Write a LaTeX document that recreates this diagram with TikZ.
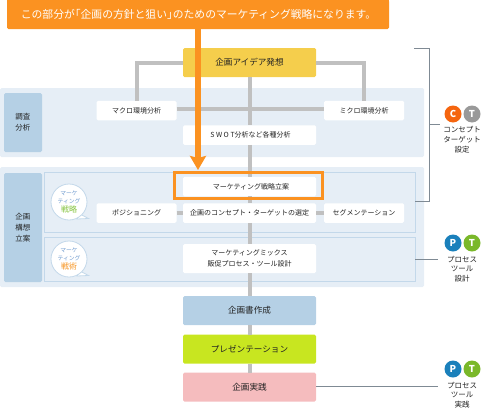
\documentclass[tikz,border=0pt]{standalone}
\usepackage{fontspec}
\setmainfont{Noto Sans CJK JP}
\usetikzlibrary{arrows.meta,calc}
\definecolor{bandc}{HTML}{E6EEF6}
\definecolor{labelc}{HTML}{B5D0E5}
\definecolor{innerc}{HTML}{C3D8EA}
\definecolor{linkc}{HTML}{C0C0C0}
\definecolor{orangec}{HTML}{FB9221}
\definecolor{leaderc}{HTML}{7F8A94}
\definecolor{txtc}{HTML}{222222}
\definecolor{bluetxt}{HTML}{6F9BCF}
\definecolor{greentxt}{HTML}{86C440}
\definecolor{orangetxt}{HTML}{F7931E}
\tikzset{
  x=1pt,y=-1pt,
  base/.style={inner sep=0pt,outer sep=0pt,rounded corners=1.5pt,align=center,text=txtc},
  band/.style={base,fill=bandc},
  sidelabel/.style={base,fill=labelc,minimum width=38pt,font=\fontsize{7.5}{11}\selectfont},
  innerbox/.style={base,fill=bandc,draw=innerc,line width=.8pt,rounded corners=0pt,minimum width=371pt},
  whitebox/.style={base,fill=white,font=\fontsize{7}{10.5}\selectfont},
  narrowbox/.style={whitebox,minimum width=80pt,minimum height=19.5pt},
  widebox/.style={whitebox,minimum width=133pt,minimum height=19.5pt},
  stepbox/.style={base,minimum width=133pt,minimum height=29pt,font=\fontsize{8.6}{10}\selectfont},
  link/.style={draw=linkc,line width=4pt},
  leader/.style={draw=leaderc,line width=.8pt},
  badge/.style={circle,minimum size=17pt,inner sep=0pt,text=white,font=\fontsize{9.5}{10}\selectfont\bfseries},
  caption/.style={inner sep=0pt,align=center,text=txtc,font=\fontsize{7.5}{9.7}\selectfont},
  bubble/.style={circle,minimum size=36pt,inner sep=0pt,fill=white,draw=innerc,line width=.8pt,align=center,text=bluetxt,font=\fontsize{5.8}{8.4}\selectfont}
}
\begin{document}
\begin{tikzpicture}
\useasboundingbox (0,0) rectangle (482,418);
% bands
\node[band,minimum width=424pt,minimum height=69pt] (band1) at (212,122.5) {};
\node[band,minimum width=424pt,minimum height=120pt] (band2) at (212,227) {};
\node[sidelabel,minimum height=59pt] (lab1) at (23,122.5) {調査\\分析};
\node[sidelabel,minimum height=109pt] (lab2) at (23,227.5) {企画\\構想\\立案};
\node[innerbox,minimum height=60pt] (inner1) at (229.5,202) {};
\node[innerbox,minimum height=44pt] (inner2) at (229.5,259) {};
% boxes
\node[stepbox,fill={rgb,255:red,245;green,206;blue,76}] (idea) at (249.5,62.5) {企画アイデア発想};
\node[narrowbox] (macro) at (136.5,110.5) {マクロ環境分析};
\node[narrowbox] (micro) at (364,110.5) {ミクロ環境分析};
\node[widebox] (swot) at (249.5,135) {\hspace{2pt}S W O T分析など各種分析};
\node[widebox] (plan) at (249.5,186.5) {\hspace{3pt}マーケティング戦略立案};
\node[narrowbox] (posi) at (136.5,213) {ポジショニング};
\node[widebox] (concept) at (249.5,213) {企画のコンセプト・ターゲットの選定};
\node[narrowbox] (seg) at (364,213) {セグメンテーション};
\node[whitebox,minimum width=133pt,minimum height=29pt] (mix) at (249.5,258.5) {マーケティングミックス\\販促プロセス・ツール設計};
\node[stepbox,fill=labelc] (doc) at (249.5,310.5) {企画書作成};
\node[stepbox,fill={rgb,255:red,200;green,230;blue,32}] (pres) at (249.5,349) {プレゼンテーション};
\node[stepbox,fill={rgb,255:red,245;green,188;blue,190}] (exec) at (249.5,387) {企画実践};
% grey connectors
\draw[link] (idea.west) -| (macro.north);
\draw[link] (idea.east) -| (micro.north);
\draw[link] ([yshift=1.5pt]macro.east) -- ([yshift=1.5pt]micro.west);
\draw[link] (idea.south) -- (swot.north);
\draw[link] (swot.south) -- (plan.north);
\draw[link] (plan.south) -- (concept.north);
\draw[link] (concept.south) -- (mix.north);
\draw[link] (mix.south) -- (doc.north);
\draw[link] (doc.south) -- (pres.north);
\draw[link] (pres.south) -- (exec.north);
\draw[link] (posi.east) -- (concept.west);
\draw[link] (concept.east) -- (seg.west);
% bubbles
\fill[white,draw=innerc,line width=.8pt] (80,214) -- (88.5,218.5) -- (77,219) -- cycle;
\node[bubble] (b1) at (69,202) {マーケ\\ティング\\[1pt]{\fontsize{8}{9}\selectfont\color{greentxt}戦略}};
\fill[white,draw=innerc,line width=.8pt] (80,271) -- (88.5,275.5) -- (77,276) -- cycle;
\node[bubble] (b2) at (69,259) {マーケ\\ティング\\[1pt]{\fontsize{8}{9}\selectfont\color{orangetxt}戦術}};
% orange frame
\node[draw=orangec,line width=3pt,fill=none,inner sep=0pt,minimum width=148pt,minimum height=26pt] (frame) at (248.5,185.5) {};
% banner
\node[base,fill=orangec,minimum width=382pt,minimum height=29pt] (banner) at (198,14.5) {};
\fill[orangec] (banner.north west) rectangle ([yshift=-4pt]banner.north east);
\node[inner sep=0pt,text=white,font=\fontsize{10.8}{14}\selectfont] (bannertext) at (198.5,14) {この部分が\hspace{-5pt}「企画の方針と狙い」\hspace{-5pt}のためのマーケティング戦略になります。};
\coordinate (tip) at (198,170);
\draw[draw=orangec,line width=5.7pt,-{Stealth[inset=2pt,length=14pt,width=16pt]}] (banner.south -| tip) -- (tip);
% leaders
\coordinate (brtop) at (414,48);
\coordinate (brcorner) at (429,48);
\coordinate (brbot) at (429,201);
\coordinate (brmid) at (429,124);
\draw[leader] (brtop) -- (brcorner) -- (brbot) -- (brbot -| inner1.east);
\coordinate (capa) at (440,124);
\draw[leader] (brmid) -- (capa);
\coordinate (capb) at (438,259);
\draw[leader] (inner2.east) -- (capb);
\coordinate (capc) at (438,386.5);
\draw[leader] (exec.east |- capc) -- (capc);
% badges
\node[badge,fill={rgb,255:red,245;green,101;blue,15}] (c1) at (453,114) {C};
\node[badge,fill={rgb,255:red,153;green,153;blue,153}] (t1) at (472,114) {T};
\node[caption] (cap1) at (462,139.5) {コンセプト\\ターゲット\\設定};
\node[badge,fill={rgb,255:red,26;green,128;blue,187}] (p2) at (453,243) {P};
\node[badge,fill={rgb,255:red,122;green,184;blue,42}] (t2) at (472,243) {T};
\node[caption] (cap2) at (462,269) {プロセス\\ツール\\設計};
\node[badge,fill={rgb,255:red,26;green,128;blue,187}] (p3) at (453,369) {P};
\node[badge,fill={rgb,255:red,122;green,184;blue,42}] (t3) at (472,369) {T};
\node[caption] (cap3) at (462,395) {プロセス\\ツール\\実践};
\end{tikzpicture}
\end{document}
